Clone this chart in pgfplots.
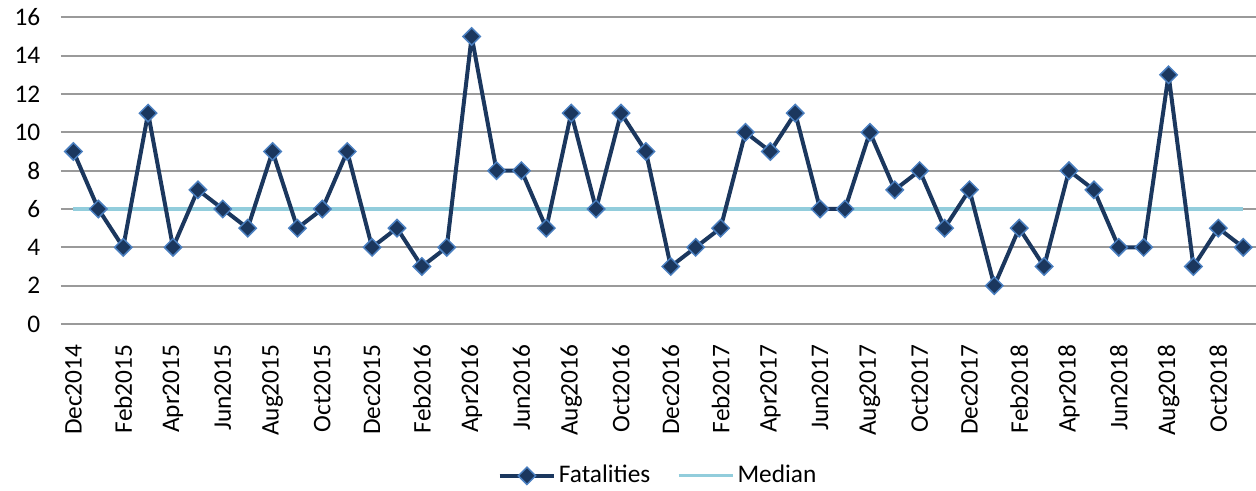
\documentclass[border=0pt]{standalone}
\usepackage{pgfplots}
\pgfplotsset{compat=1.18}
\usepackage{fontspec}
\setmainfont{Carlito}
\definecolor{navy}{HTML}{1B375E}
\definecolor{edgeblue}{HTML}{4A7FC0}
\definecolor{medblue}{HTML}{92CDDC}
\definecolor{gridgray}{HTML}{9A9A9A}

\pgfplotstableread{
x y
0 9
1 6
2 4
3 11
4 4
5 7
6 6
7 5
8 9
9 5
10 6
11 9
12 4
13 5
14 3
15 4
16 15
17 8
18 8
19 5
20 11
21 6
22 11
23 9
24 3
25 4
26 5
27 10
28 9
29 11
30 6
31 6
32 10
33 7
34 8
35 5
36 7
37 2
38 5
39 3
40 8
41 7
42 4
43 4
44 13
45 3
46 5
47 4
}\fatal

\begin{document}
\fontsize{19}{22}\selectfont
\begin{tikzpicture}[
  fatstyle/.style={color=navy, line width=3pt, line join=round, mark=square*, mark size=4.6pt,
    mark options={rotate=45, fill=navy, draw=edgeblue, line width=1.1pt, solid, line join=miter}},
  medstyle/.style={color=medblue, line width=2.4pt, mark=none}]
\begin{axis}[
  at={(0,0)}, anchor=south west,
  scale only axis,
  width=896pt, height=230pt,
  xmin=-0.5, xmax=47.5,
  ymin=0, ymax=16,
  ytick={0,2,...,16},
  xtick={0,2,...,46},
  xticklabels={Dec2014,Feb2015,Apr2015,Jun2015,Aug2015,Oct2015,Dec2015,Feb2016,Apr2016,Jun2016,Aug2016,Oct2016,Dec2016,Feb2017,Apr2017,Jun2017,Aug2017,Oct2017,Dec2017,Feb2018,Apr2018,Jun2018,Aug2018,Oct2018},
  xticklabel style={rotate=90, anchor=east, xshift=-9pt},
  yticklabel style={anchor=east, xshift=-9pt},
  /pgf/number format/assume math mode=true,
  major tick length=0pt,
  axis line style={draw=none},
  ymajorgrids=true,
  grid style={gridgray, line width=1.3pt},
  legend columns=2,
  legend style={draw=none, fill=none, at={(0.5,-0.495)}, anchor=center,
    /tikz/every even column/.append style={column sep=18pt},
    font=\fontsize{19}{22}\selectfont},
  legend image code/.code={
    \draw[mark repeat=2, mark phase=2] plot coordinates {(0pt,0pt) (20.5pt,0pt) (41pt,0pt)};},
]
\addplot[medstyle, forget plot] coordinates {(0,6) (47,6)};
\addplot[fatstyle] table[x=x, y=y] {\fatal};
\addlegendentry{Fatalities}
\addlegendimage{medstyle}
\addlegendentry{Median}
\end{axis}
\pgfresetboundingbox
\path[use as bounding box] (-45.75pt,-125.25pt) rectangle (896.25pt,243pt);
\end{tikzpicture}
\end{document}
